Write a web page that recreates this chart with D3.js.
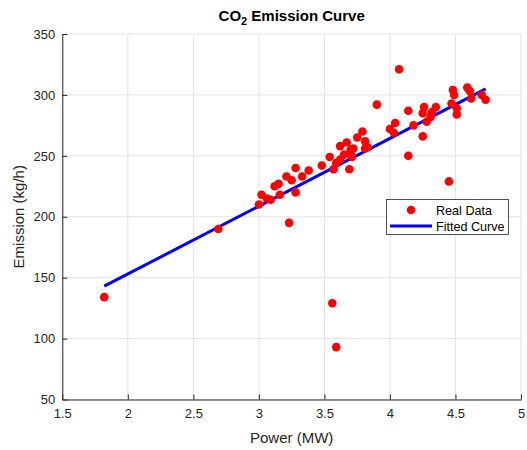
<!DOCTYPE html>
<html><head><meta charset="utf-8">
<script src="https://cdn.jsdelivr.net/npm/d3@7"></script>
<style>body{margin:0;background:#fff;} svg{display:block;font-family:"Liberation Sans",Arial,sans-serif;}</style>
</head><body><svg id="c" width="527" height="450"></svg>
<script>
const powerMW = [1.82,2.69,3.00,3.02,3.06,3.09,3.12,3.15,3.16,3.21,3.23,3.25,3.28,3.28,3.33,3.38,3.48,3.54,3.56,3.57,3.59,3.59,3.62,3.62,3.65,3.67,3.70,3.72,3.69,3.71,3.70,3.79,3.75,3.81,3.83,3.81,3.90,4.00,4.04,4.03,4.07,4.14,4.14,4.18,4.26,4.25,4.25,4.28,4.31,4.32,4.35,4.45,4.47,4.48,4.49,4.51,4.51,4.59,4.61,4.62,4.70,4.73];
const emission = [134,190,210,218,215,214,225,227,218,233,195,230,220,240,233,238,242,249,129,239,244,93,258,247,251,261,255,256,239,249,252,270,265,262,257,256,292,272,277,269,321,287,250,275,290,285,266,278,282,286,290,229,293,304,300,289,284,306,303,297,300,296];
const fitX = [1.82, 4.73];
const fitY = [143, 305];
const xTicks = [1.5,2,2.5,3,3.5,4,4.5,5];
const yTicks = [50,100,150,200,250,300,350];
const legendLabels = ["Real Data","Fitted Curve"];

const svg = d3.select("#c");
const L=62.3, R=521, T=34, B=399.5;
const x = d3.scaleLinear().domain([1.5,5]).range([L,R]);
const y = d3.scaleLinear().domain([50,350]).range([B,T]);
const axisCol="#262626";

// grid
svg.append("g").selectAll("line").data(xTicks).join("line")
  .attr("x1",d=>x(d)).attr("x2",d=>x(d)).attr("y1",T).attr("y2",B)
  .attr("stroke","#e3e3e3").attr("stroke-width",1);
svg.append("g").selectAll("line").data(yTicks).join("line")
  .attr("x1",L).attr("x2",R).attr("y1",d=>y(d)).attr("y2",d=>y(d))
  .attr("stroke","#e3e3e3").attr("stroke-width",1);

// axes
const xa = svg.append("g").attr("transform",`translate(0,${B})`)
  .call(d3.axisBottom(x).tickValues(xTicks).tickFormat(d=>String(d)).tickSizeInner(-5).tickSizeOuter(0).tickPadding(9));
const ya = svg.append("g").attr("transform",`translate(${L},0)`)
  .call(d3.axisLeft(y).tickValues(yTicks).tickFormat(d=>String(d)).tickSizeInner(-5).tickSizeOuter(0).tickPadding(7));
[xa,ya].forEach(a=>{
  a.select(".domain").attr("stroke",axisCol).attr("stroke-width",1);
  a.selectAll(".tick line").attr("stroke",axisCol);
  a.selectAll(".tick text").attr("fill",axisCol).attr("font-size",13).attr("font-family","Liberation Sans, Arial, sans-serif");
});

// fitted line
svg.append("line")
  .attr("x1",x(fitX[0])).attr("y1",y(fitY[0])).attr("x2",x(fitX[1])).attr("y2",y(fitY[1]))
  .attr("stroke","#0000ff").attr("stroke-width",3);

// points
svg.append("g").selectAll("circle").data(powerMW.map((p,i)=>[p,emission[i]])).join("circle")
  .attr("cx",d=>x(d[0])).attr("cy",d=>y(d[1])).attr("r",4.3).attr("fill","#ff0000");

// title
const t = svg.append("text").attr("x",(L+R)/2).attr("y",21).attr("text-anchor","middle")
  .attr("font-size",15).attr("font-weight","bold").attr("fill","#000");
t.append("tspan").text("CO");
t.append("tspan").attr("font-size",11).attr("dy",4).text("2");
t.append("tspan").attr("dy",-4).text(" Emission Curve");

// axis labels
svg.append("text").attr("x",(L+R)/2).attr("y",443).attr("text-anchor","middle")
  .attr("font-size",15).attr("fill",axisCol).text("Power (MW)");
svg.append("text").attr("transform",`translate(24,${(T+B)/2}) rotate(-90)`).attr("text-anchor","middle")
  .attr("font-size",15).attr("fill",axisCol).text("Emission (kg/h)");

// legend
const lg = svg.append("g");
lg.append("rect").attr("x",386.5).attr("y",199.5).attr("width",122).attr("height",35)
  .attr("fill","#fff").attr("stroke","#262626").attr("stroke-width",0.8);
lg.append("circle").attr("cx",411).attr("cy",210).attr("r",4.3).attr("fill","#ff0000");
lg.append("line").attr("x1",390).attr("x2",432).attr("y1",226).attr("y2",226).attr("stroke","#0000ff").attr("stroke-width",3);
lg.selectAll("text").data(legendLabels).join("text")
  .attr("x",436).attr("y",(d,i)=>214.5+i*16).attr("font-size",12.6).attr("fill","#000").text(d=>d);
</script></body></html>
